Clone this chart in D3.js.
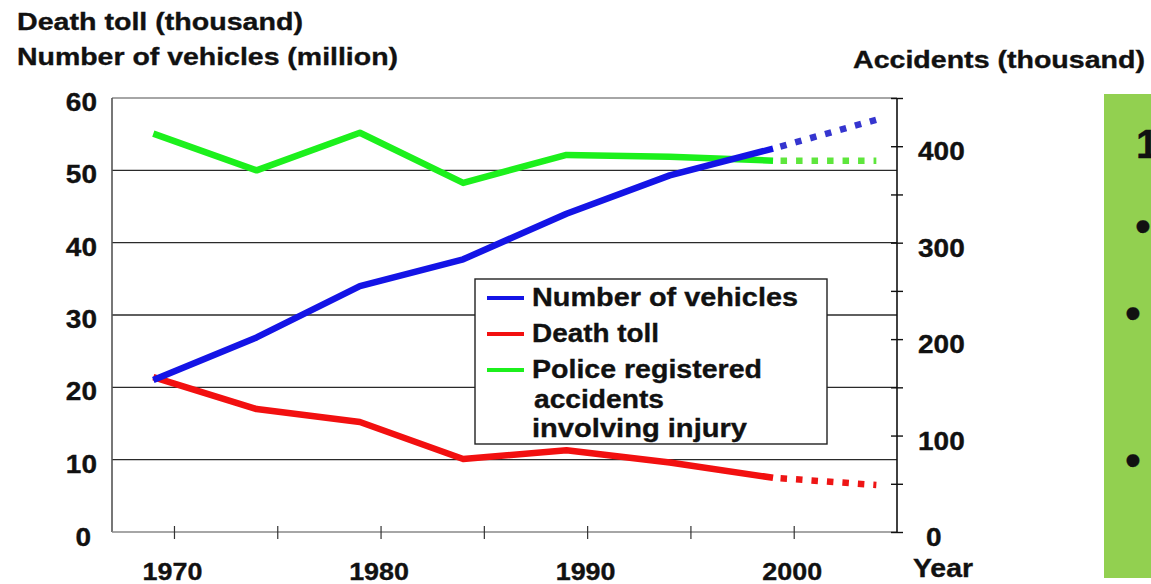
<!DOCTYPE html>
<html>
<head>
<meta charset="utf-8">
<script src="https://cdn.jsdelivr.net/npm/d3@7"></script>
<style>
  html, body { margin: 0; padding: 0; background: #fff; }
  svg { display: block; }
  text { font-family: "Liberation Sans", Arial, sans-serif; font-weight: bold; fill: #111; stroke: #111; stroke-width: 0.35px; }
</style>
</head>
<body>
<svg id="chart" width="1151" height="584"></svg>
<script>
// ---- data ----
const years = [1969, 1974, 1979, 1984, 1989, 1994, 1999];
const vehicles = [21.0, 26.9, 34.0, 37.7, 44.0, 49.3, 53.0];      // million (left axis)
const deaths = [21.4, 17.0, 15.2, 10.1, 11.3, 9.6, 7.5];           // thousand (left axis)
const accidents = [413, 375, 414, 362, 391, 389, 385];             // thousand (right axis)
const projYears = [1999, 2004];
const vehiclesProj = [53.0, 57.0];
const deathsProj = [7.5, 6.5];
const accidentsProj = [385, 385];
const leftTicks = [0, 10, 20, 30, 40, 50, 60];
const rightTicks = [0, 50, 100, 150, 200, 250, 300, 350, 400, 450];
const xTicks = [1970, 1975, 1980, 1985, 1990, 1995, 2000];
const xLabels = [1970, 1980, 1990, 2000];
const legendItems = [
  { key: "vehicles", lines: ["Number of vehicles"] },
  { key: "deaths", lines: ["Death toll"] },
  { key: "accidents", lines: ["Police registered", "accidents", "involving injury"] }
];
const colors = { vehicles: "#1414e6", deaths: "#f21010", accidents: "#1cf01c" };
const projColors = { vehicles: "#3535cf", deaths: "#ee1515", accidents: "#5ee63c" };

// ---- layout ----
const svg = d3.select("#chart");
const X0 = 112, X1 = 897, Y0 = 532, Y1 = 98;
const x = d3.scaleLinear().domain([1967, 2005]).range([X0, X1]);
const yL = d3.scaleLinear().domain([0, 60]).range([Y0, Y1]);
const yR = d3.scaleLinear().domain([0, 450]).range([Y0, Y1]);

function stretch(sel, factor) {
  sel.each(function () {
    const w = this.getComputedTextLength();
    d3.select(this).attr("textLength", w * factor).attr("lengthAdjust", "spacingAndGlyphs");
  });
}
function fitTo(sel, width) {
  sel.attr("textLength", width).attr("lengthAdjust", "spacingAndGlyphs");
}

// gridlines
svg.append("g").selectAll("line").data(leftTicks.filter(d => d > 0 && d < 60)).join("line")
  .attr("x1", X0).attr("x2", X1).attr("y1", d => yL(d)).attr("y2", d => yL(d))
  .attr("stroke", "#2a2a2a").attr("stroke-width", 1.3);
// top border
svg.append("line").attr("x1", X0).attr("x2", X1).attr("y1", Y1).attr("y2", Y1)
  .attr("stroke", "#888").attr("stroke-width", 1.3);
// left axis line
svg.append("line").attr("x1", X0).attr("x2", X0).attr("y1", Y1).attr("y2", Y0)
  .attr("stroke", "#555").attr("stroke-width", 1.6);

// bottom axis
const xAxis = d3.axisBottom(x).tickValues(xTicks).tickSize(7).tickFormat("");
const gx = svg.append("g").attr("transform", `translate(0,${Y0})`).call(xAxis);
gx.select(".domain").attr("stroke", "#888").attr("stroke-width", 1.3).attr("d", `M${X0},0H${X1}`);
gx.selectAll(".tick line").attr("y1", -6).attr("y2", 7).attr("stroke", "#333").attr("stroke-width", 1.2);
svg.append("g").selectAll("text").data(xLabels).join("text")
  .attr("x", d => x(d) - 1.5).attr("y", 580).attr("text-anchor", "middle")
  .attr("font-size", 24).text(d => d).call(stretch, 1.12);

// right axis
const rAxis = d3.axisRight(yR).tickValues(rightTicks).tickSize(6).tickFormat("");
const gr = svg.append("g").attr("transform", `translate(${X1},0)`).call(rAxis);
gr.select(".domain").attr("stroke", "#111").attr("stroke-width", 1.6).attr("d", `M0,${Y1}V${Y0}`);
gr.selectAll(".tick line").attr("x1", -6).attr("x2", 6).attr("stroke", "#111").attr("stroke-width", 1.4);
svg.append("g").selectAll("text").data(rightTicks.filter(d => d % 100 === 0)).join("text")
  .attr("x", d => d === 0 ? 926 : 918).attr("y", d => yR(d) + 14)
  .attr("font-size", 25).text(d => d).call(stretch, 1.12);

// left labels
svg.append("g").selectAll("text").data(leftTicks).join("text")
  .attr("x", d => d === 0 ? 91 : 97).attr("y", d => yL(d) + (d === 0 ? 14 : 13))
  .attr("text-anchor", "end").attr("font-size", 25).text(d => d).call(stretch, 1.12);

// axis titles
svg.append("text").attr("x", 17).attr("y", 30).attr("font-size", 24)
  .text("Death toll (thousand)").call(fitTo, 286);
svg.append("text").attr("x", 17).attr("y", 65).attr("font-size", 24)
  .text("Number of vehicles (million)").call(fitTo, 381);
svg.append("text").attr("x", 853).attr("y", 68).attr("font-size", 24)
  .text("Accidents (thousand)").call(fitTo, 292);
svg.append("text").attr("x", 913).attr("y", 577).attr("font-size", 25)
  .text("Year").call(fitTo, 60);

// lines
const lineL = d3.line().x(d => x(d[0])).y(d => yL(d[1]));
const lineR = d3.line().x(d => x(d[0])).y(d => yR(d[1]));
const series = [
  { key: "accidents", gen: lineR, vals: accidents, proj: accidentsProj },
  { key: "deaths", gen: lineL, vals: deaths, proj: deathsProj },
  { key: "vehicles", gen: lineL, vals: vehicles, proj: vehiclesProj }
];
const gl = svg.append("g");
series.forEach(s => {
  gl.append("path").datum(projYears.map((yv, i) => [yv, s.proj[i]]))
    .attr("d", s.gen).attr("fill", "none").attr("stroke", projColors[s.key])
    .attr("stroke-width", 6.5).attr("stroke-dasharray", "6.5 9").attr("stroke-dashoffset", 8);
  gl.append("path").datum(years.map((yv, i) => [yv, s.vals[i]]))
    .attr("d", s.gen).attr("fill", "none").attr("stroke", colors[s.key])
    .attr("stroke-width", 6.5).attr("stroke-linejoin", "round");
});

// legend
const lg = svg.append("g");
lg.append("rect").attr("x", 475).attr("y", 279).attr("width", 352).attr("height", 165)
  .attr("fill", "#fff").attr("stroke", "#222").attr("stroke-width", 1.4);
const legBase = [306, 342, 378];
const legText = [[{ t: "Number of vehicles", w: 266, x: 532 }],
                 [{ t: "Death toll", w: 127, x: 532 }],
                 [{ t: "Police registered", w: 230, x: 532 }, { t: "accidents", w: 130, x: 534, y: 408 }, { t: "involving injury", w: 215, x: 532, y: 437 }]];
legendItems.forEach((it, i) => {
  lg.append("line").attr("x1", 487).attr("x2", 524).attr("y1", legBase[i] - 8).attr("y2", legBase[i] - 8)
    .attr("stroke", colors[it.key]).attr("stroke-width", 4);
  it.lines.forEach((ln, j) => {
    const spec = legText[i][j];
    lg.append("text").attr("x", spec.x).attr("y", spec.y || legBase[i]).attr("font-size", 25)
      .text(ln).call(fitTo, spec.w);
  });
});

// side panel (cut off at the right edge, as in the reference)
const side = svg.append("g");
side.append("rect").attr("x", 1104).attr("y", 94).attr("width", 60).attr("height", 484).attr("fill", "#92d050");
side.append("text").attr("x", 1136).attr("y", 158).attr("font-size", 40).text("1");
const bullets = [{ x: 1143, y: 226 }, { x: 1133, y: 313 }, { x: 1133, y: 460 }];
side.selectAll("text.b").data(bullets).join("text").attr("class", "b")
  .attr("x", d => d.x).attr("y", d => d.y + 15).attr("text-anchor", "middle")
  .attr("font-size", 44).text("•");
</script>
</body>
</html>
